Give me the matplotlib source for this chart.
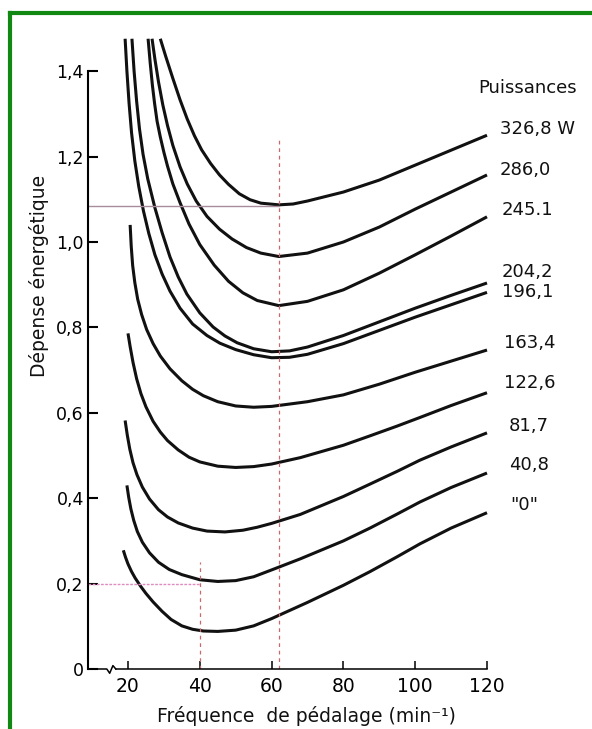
import matplotlib
matplotlib.use("Agg")
import matplotlib.pyplot as plt
from matplotlib.lines import Line2D

# puissances (W) and curves: pedalling rate (min-1) -> energy expenditure
labels = ["326,8 W", "286,0", "245.1", "204,2", "196,1",
          "163,4", "122,6", "81,7", "40,8", '"0"']

x_3268 = [29, 30.5, 32.5, 34.5, 36.5, 38.5, 40.5, 43, 45.5, 48, 51, 54, 57, 62, 66, 70,
          80, 90, 100, 110, 120]
y_3268 = [1.476, 1.435, 1.383, 1.333, 1.288, 1.249, 1.216, 1.184, 1.157, 1.135, 1.113,
          1.099, 1.091, 1.087, 1.089, 1.096, 1.117, 1.145, 1.18, 1.215, 1.25]

x_2860 = [26.7, 27.5, 28.5, 29.7, 31, 32.5, 34.5, 36.5, 39, 42, 45.5, 49, 53, 57, 62, 70,
          80, 90, 100, 110, 120]
y_2860 = [1.476, 1.428, 1.375, 1.321, 1.273, 1.226, 1.176, 1.136, 1.096, 1.06, 1.03,
          1.007, 0.987, 0.974, 0.966, 0.974, 1.0, 1.035, 1.077, 1.117, 1.157]

x_2451 = [25.6, 26.2, 26.8, 27.4, 28.1, 29, 30, 31, 32.5, 34.5, 37, 40, 44, 48, 52, 56,
          62, 70, 80, 90, 100, 110, 120]
y_2451 = [1.476, 1.418, 1.367, 1.325, 1.283, 1.246, 1.21, 1.178, 1.136, 1.092, 1.042,
          0.994, 0.946, 0.908, 0.881, 0.863, 0.851, 0.861, 0.888, 0.927, 0.97, 1.014, 1.059]

x_2042 = [21.1, 21.7, 22.4, 23.2, 24.2, 25.5, 27.5, 29.5, 31.7, 34, 36.4, 40, 43.7, 47,
          50.4, 55, 60, 65, 70, 80, 90, 100, 110, 120]
y_2042 = [1.476, 1.40, 1.33, 1.265, 1.205, 1.148, 1.08, 1.022, 0.965, 0.918, 0.878, 0.834,
          0.801, 0.78, 0.764, 0.75, 0.743, 0.745, 0.754, 0.781, 0.813, 0.845, 0.875, 0.904]

x_1961 = [19.2, 19.7, 20.3, 21, 21.9, 23, 24.3, 25.8, 27.5, 29.5, 31.7, 34.5, 38, 42,
          45.6, 50, 55, 60, 65, 70, 80, 90, 100, 110, 120]
y_1961 = [1.476, 1.40, 1.325, 1.255, 1.19, 1.13, 1.073, 1.02, 0.97, 0.925, 0.885, 0.845,
          0.808, 0.781, 0.763, 0.748, 0.736, 0.729, 0.73, 0.737, 0.762, 0.793, 0.824,
          0.853, 0.882]

x_1634 = [20.6, 20.9, 21.3, 21.9, 22.7, 23.8, 25.2, 27, 29, 31.7, 35, 38, 41, 45, 50, 55,
          60, 70, 80, 90, 100, 110, 120]
y_1634 = [1.04, 0.99, 0.945, 0.905, 0.866, 0.83, 0.795, 0.762, 0.733, 0.703, 0.675, 0.655,
          0.64, 0.626, 0.616, 0.613, 0.615, 0.626, 0.642, 0.667, 0.695, 0.721, 0.747]

x_1226 = [20, 20.6, 21.4, 22.4, 23.6, 25, 27, 29, 31, 34, 37, 40, 45, 50, 55, 60, 68, 80,
          87.4, 95, 101.3, 110, 120]
y_1226 = [0.786, 0.755, 0.718, 0.68, 0.645, 0.614, 0.58, 0.555, 0.535, 0.513, 0.496, 0.485,
          0.475, 0.472, 0.474, 0.48, 0.495, 0.524, 0.546, 0.569, 0.589, 0.617, 0.647]

x_817 = [19.2, 19.8, 20.5, 21.4, 22.5, 24, 26, 28.5, 31, 34, 38, 42, 47, 52, 56, 60, 68,
         80, 87.4, 95, 101.3, 110, 120]
y_817 = [0.582, 0.548, 0.515, 0.483, 0.455, 0.426, 0.398, 0.373, 0.356, 0.342, 0.33,
         0.323, 0.321, 0.325, 0.332, 0.341, 0.362, 0.404, 0.433, 0.463, 0.489, 0.52, 0.553]

x_408 = [19.7, 20.2, 20.8, 21.6, 22.6, 24, 26, 28.5, 31.5, 35, 40, 45, 50, 55, 60, 68, 80,
         87.4, 95, 101.3, 110, 120]
y_408 = [0.43, 0.402, 0.375, 0.348, 0.322, 0.297, 0.272, 0.25, 0.233, 0.221, 0.209, 0.205,
         0.207, 0.216, 0.232, 0.258, 0.30, 0.33, 0.363, 0.391, 0.425, 0.459]

x_0 = [18.7, 19.3, 20, 21, 22, 23.5, 25, 27, 29.5, 32, 35, 38, 41, 45, 50, 55, 60, 65, 70,
       80, 87.4, 95, 101.3, 110, 120]
y_0 = [0.278, 0.262, 0.246, 0.228, 0.213, 0.194, 0.177, 0.157, 0.135, 0.116, 0.101, 0.093,
       0.089, 0.088, 0.091, 0.101, 0.118, 0.137, 0.156, 0.196, 0.228, 0.263, 0.293, 0.33,
       0.366]

curves_x = [x_3268, x_2860, x_2451, x_2042, x_1961, x_1634, x_1226, x_817, x_408, x_0]
curves_y = [y_3268, y_2860, y_2451, y_2042, y_1961, y_1634, y_1226, y_817, y_408, y_0]

yticks = [0, 0.2, 0.4, 0.6, 0.8, 1.0, 1.2, 1.4]
ytick_labels = ["0", "0,2", "0,4", "0,6", "0,8", "1,0", "1,2", "1,4"]
xticks = [20, 40, 60, 80, 100, 120]

# optimum marks drawn on the original
opt_x = [62, 40]
opt_y = [1.085, 0.2]
opt_top = [1.24, 0.25]

# label nudges in pixels from each curve's right end
label_dx = [13, 13, 15, 15, 15, 17, 17, 22, 22, 23]
label_dy = [6, 5, 7, 11, 0, 7, 10, 7, 8, 8]

fig = plt.figure(figsize=(5.92, 7.29), dpi=100)
fig.patch.set_facecolor("white")
ax = fig.add_axes([88 / 592, 60 / 729, 504 / 592, 641 / 729])
ax.set_xlim(8.86, 149.25)
ax.set_ylim(0, 641 / 427)

for xs, ys in zip(curves_x, curves_y):
    ax.plot(xs, ys, color="#111111", lw=2.2, solid_capstyle="butt",
            solid_joinstyle="round")

for xs, ys, lab, dx, dy in zip(curves_x, curves_y, labels, label_dx, label_dy):
    ax.annotate(lab, xy=(xs[-1], ys[-1]), xytext=(dx, dy), textcoords="offset pixels",
                ha="left", va="center", fontsize=13, color="#111111",
                annotation_clip=False)

ax.text(117.5, 1.36, "Puissances", ha="left", va="center", fontsize=13,
        color="#111111", clip_on=False)

# optimum guides
ax.plot([8.86, opt_x[0]], [opt_y[0], opt_y[0]], color="#a88c9c", lw=1.0)
ax.plot([8.86, opt_x[1]], [opt_y[1], opt_y[1]], color="#e08cc0", lw=1.0,
        linestyle=(0, (2, 1)))
for xo, top in zip(opt_x, opt_top):
    ax.plot([xo, xo], [0, top], color="#c86a6a", lw=0.9, linestyle=(0, (3, 3)))

# axes styling
for s in ["top", "right"]:
    ax.spines[s].set_visible(False)
ax.spines["left"].set_bounds(0, 1.4)
ax.spines["left"].set_linewidth(1.5)
ax.spines["bottom"].set_bounds(16.6, 120)
ax.spines["bottom"].set_linewidth(1.1)
# small axis break near the origin
ax.plot([8.86, 14.1, 14.9, 15.8, 16.6], [0, 0, -0.01, 0.008, 0],
        color="black", lw=1.1, clip_on=False)

ax.set_yticks(yticks)
ax.set_yticklabels(ytick_labels)
ax.set_xticks(xticks)
ax.tick_params(axis="y", direction="in", length=7, width=1.5, pad=3, labelsize=12.5)
ax.tick_params(axis="x", direction="in", length=6, width=1.1, pad=6, labelsize=13.5)

fig.text(306 / 592, 1 - 716 / 729, "Fréquence  de pédalage (min⁻¹)",
         ha="center", va="center", fontsize=13.5, color="#111111")
fig.text(39 / 592, 1 - 276 / 729, "Dépense énergétique", rotation=90,
         ha="center", va="center", fontsize=13.5, color="#111111")

# green frame of the scanned figure
fig.add_artist(Line2D([10 / 592, 1.0], [1 - 13 / 729, 1 - 13 / 729],
                      transform=fig.transFigure, color="#118811", lw=3))
fig.add_artist(Line2D([10 / 592, 10 / 592], [1 - 13 / 729, 0],
                      transform=fig.transFigure, color="#118811", lw=3))

fig.savefig("out.png", dpi=100)
